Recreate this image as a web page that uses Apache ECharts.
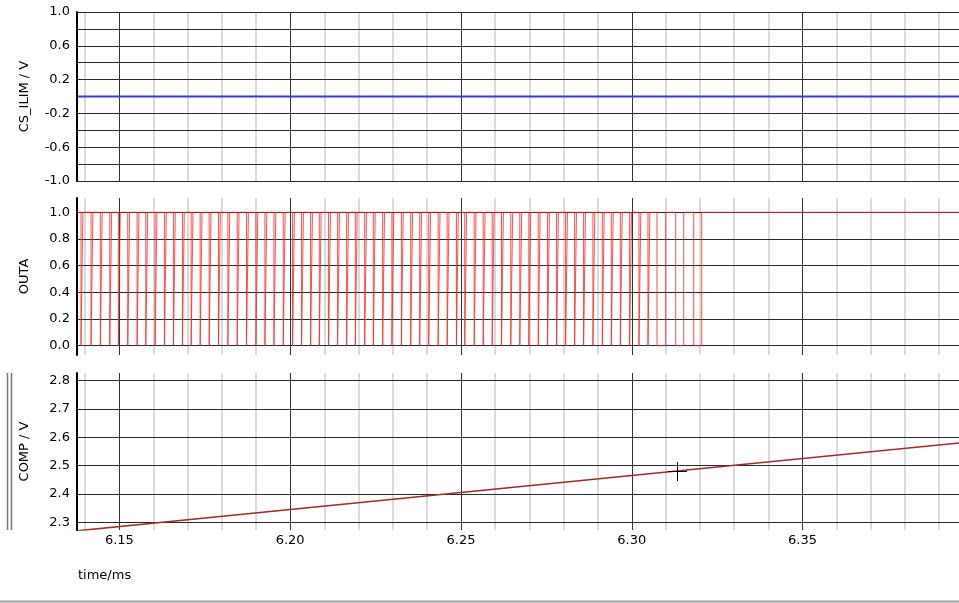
<!DOCTYPE html>
<html><head><meta charset="utf-8">
<script src="https://cdn.jsdelivr.net/npm/echarts@6/dist/echarts.min.js"></script>
<style>html,body{margin:0;padding:0;background:#fff}#c{width:959px;height:603px}</style>
</head><body><div id="c"></div>
<script>
// ---- time axis (ms) ----
const timeRange = [6.1376, 6.3958];
const timeMajorTicks = [6.15, 6.20, 6.25, 6.30, 6.35];
const timeMinorTicks = [6.14, 6.16, 6.17, 6.18, 6.19, 6.21, 6.22, 6.23, 6.24, 6.26, 6.27, 6.28, 6.29, 6.31, 6.32, 6.33, 6.34, 6.36, 6.37, 6.38, 6.39];

// ---- CS_ILIM panel ----
const csIlimRange = [-1.0, 1.0];
const csIlimGridTicks = [-1.0, -0.8, -0.6, -0.4, -0.2, 0.0, 0.2, 0.4, 0.6, 0.8, 1.0];
const csIlimLabels = [-1.0, -0.6, -0.2, 0.2, 0.6, 1.0];
const csIlimTime = [6.1376, 6.3958];
const csIlimValue = [0, 0];

// ---- OUTA panel ----
const outaRange = [-0.0697, 1.107];
const outaGridTicks = [0.0, 0.2, 0.4, 0.6, 0.8, 1.0];
const outaLabels = [0.0, 0.2, 0.4, 0.6, 0.8, 1.0];
const outaSpan = [6.1376, 6.3958];
const outaFall = [6.13877, 6.14171, 6.14443, 6.14719, 6.14971, 6.15246, 6.15519, 6.15774, 6.16046, 6.16319,
  6.16583, 6.16846, 6.17101, 6.17365, 6.17629, 6.17902, 6.18177, 6.18450, 6.18722, 6.18998,
  6.19261, 6.19525, 6.19798, 6.20070, 6.20334, 6.20598, 6.20853, 6.21125, 6.21389, 6.21653,
  6.21908, 6.22181, 6.22435, 6.22708, 6.22978, 6.23256, 6.23529, 6.23792, 6.24056, 6.24332,
  6.24596, 6.24868, 6.25111, 6.25387, 6.25651, 6.25914, 6.26187, 6.26459, 6.26723, 6.26987,
  6.27263, 6.27535, 6.27799, 6.28063, 6.28327, 6.28590, 6.28863, 6.29138, 6.29402, 6.29666,
  6.29938, 6.30211, 6.30475, 6.30739, 6.31287, 6.31814];
const outaRise = [6.13932, 6.14226, 6.14498, 6.14774, 6.15026, 6.15301, 6.15574, 6.15829, 6.16101, 6.16374,
  6.16638, 6.16901, 6.17156, 6.17420, 6.17684, 6.17957, 6.18232, 6.18505, 6.18777, 6.19053,
  6.19316, 6.19580, 6.19853, 6.20125, 6.20389, 6.20653, 6.20908, 6.21180, 6.21444, 6.21708,
  6.21963, 6.22236, 6.22490, 6.22763, 6.23033, 6.23311, 6.23584, 6.23847, 6.24111, 6.24387,
  6.24651, 6.24923, 6.25166, 6.25442, 6.25706, 6.25969, 6.26242, 6.26514, 6.26778, 6.27042,
  6.27318, 6.27590, 6.27854, 6.28118, 6.28382, 6.28645, 6.28918, 6.29193, 6.29457, 6.29721,
  6.29993, 6.30266, 6.30530, 6.30993, 6.31521, 6.32049];

// ---- COMP panel ----
const compRange = [2.2728, 2.8272];
const compGridTicks = [2.3, 2.4, 2.5, 2.6, 2.7, 2.8];
const compLabels = [2.3, 2.4, 2.5, 2.6, 2.7, 2.8];
const compTime = [6.1376, 6.2000, 6.2500, 6.3132, 6.3958];
const compValue = [2.270, 2.345, 2.405, 2.481, 2.580];

// ---------------------------------------------------------------
const FONT = 'DejaVu Sans';
const chart = echarts.init(document.getElementById('c'), null, {renderer: 'canvas'});

function inList(list, v) { return list.some(m => Math.abs(m - v) < 1e-6); }

const outaData = [[outaSpan[0], 1]];
for (let i = 0; i < outaFall.length; i++) {
  outaData.push([outaFall[i], 1], [outaFall[i], 0], [outaRise[i], 0], [outaRise[i], 1]);
}
outaData.push([outaSpan[1], 1]);

const panels = [
  {top: 12, height: 169, range: csIlimRange, ticks: csIlimGridTicks, labels: csIlimLabels, name: 'CS_ILIM / V', interval: 0.2},
  {top: 198, height: 157, range: outaRange, ticks: outaGridTicks, labels: outaLabels, name: 'OUTA'},
  {top: 373, height: 157, range: compRange, ticks: compGridTicks, labels: compLabels, name: 'COMP / V'}
];

const grid = panels.map(p => ({left: 77, right: 0, top: p.top, height: p.height, containLabel: false}));

const xAxis = panels.map((p, i) => ({
  type: 'value', gridIndex: i, min: timeRange[0], max: timeRange[1], splitNumber: 5,
  axisLine: {show: false}, axisTick: {show: false}, splitLine: {show: false},
  axisLabel: {
    show: i === 2, color: '#000', fontSize: 13, fontFamily: FONT, margin: 4,
    showMinLabel: false, showMaxLabel: false,
    formatter: v => inList(timeMajorTicks, v) ? v.toFixed(2) : ''
  }
}));

const yAxis = panels.map((p, i) => {
  const ax = {
    type: 'value', gridIndex: i, min: p.range[0], max: p.range[1], splitNumber: 5, z: 4,
    axisLine: {show: true, onZero: false, lineStyle: {color: '#000', width: 2}},
    axisTick: {show: false}, splitLine: {show: false},
    axisLabel: {
      color: '#000', fontSize: 13, fontFamily: FONT, margin: 7,
      formatter: v => inList(p.labels, v) ? v.toFixed(1) : ''
    },
    name: p.name, nameLocation: 'middle', nameGap: 46,
    nameTextStyle: {color: '#000', fontSize: 13, fontFamily: FONT}
  };
  if (p.interval) ax.interval = p.interval;
  return ax;
});

function gridLineSeries(i, p) {
  const data = [];
  timeMinorTicks.forEach(v => data.push({xAxis: v, lineStyle: {color: '#dadada', width: 2, type: 'solid'}}));
  p.ticks.forEach(v => data.push({yAxis: v, lineStyle: {color: '#2a2a2a', width: 1, type: 'solid'}}));
  timeMajorTicks.forEach(v => data.push({xAxis: v, lineStyle: {color: '#333', width: 1, type: 'solid'}}));
  return {
    type: 'line', xAxisIndex: i, yAxisIndex: i, z: 1, silent: true,
    data: [[timeRange[0], (p.range[0] + p.range[1]) / 2]],
    symbol: 'none', lineStyle: {opacity: 0},
    markLine: {
      z: 1, silent: true, symbol: ['none', 'none'], animation: false,
      label: {show: false}, emphasis: {disabled: true},
      data: data
    }
  };
}

const series = panels.map((p, i) => gridLineSeries(i, p));
series.push({
  type: 'line', xAxisIndex: 0, yAxisIndex: 0, z: 3, symbol: 'none', silent: true,
  data: csIlimTime.map((t, k) => [t, csIlimValue[k]]),
  lineStyle: {color: '#3838e0', width: 2}
});
series.push({
  type: 'line', xAxisIndex: 1, yAxisIndex: 1, z: 3, symbol: 'none', silent: true,
  data: outaData,
  lineStyle: {color: 'rgba(255,35,35,0.8)', width: 1}
});
series.push({
  type: 'line', xAxisIndex: 2, yAxisIndex: 2, z: 3, symbol: 'none', silent: true,
  data: compTime.map((t, k) => [t, compValue[k]]),
  lineStyle: {color: '#a52a2a', width: 1.6}
});

const graphic = [
  {type: 'line', shape: {x1: 7.5, y1: 373, x2: 7.5, y2: 530}, style: {stroke: '#777', lineWidth: 1.5}, silent: true},
  {type: 'line', shape: {x1: 11.5, y1: 373, x2: 11.5, y2: 530}, style: {stroke: '#777', lineWidth: 1.5}, silent: true},
  {type: 'line', shape: {x1: 0, y1: 601.5, x2: 959, y2: 601.5}, style: {stroke: '#a0a0a0', lineWidth: 2}, silent: true},
  {type: 'text', left: 78, top: 569, style: {text: 'time/ms', font: '13px "DejaVu Sans"', fill: '#000'}, silent: true},
  {type: 'line', shape: {x1: 677.5, y1: 462, x2: 677.5, y2: 481}, style: {stroke: '#000', lineWidth: 1}, silent: true, z: 10},
  {type: 'line', shape: {x1: 668, y1: 471.5, x2: 687, y2: 471.5}, style: {stroke: '#000', lineWidth: 1}, silent: true, z: 10}
];

chart.setOption({
  animation: false,
  backgroundColor: '#fff',
  grid, xAxis, yAxis, series, graphic
});
</script>
</body></html>
